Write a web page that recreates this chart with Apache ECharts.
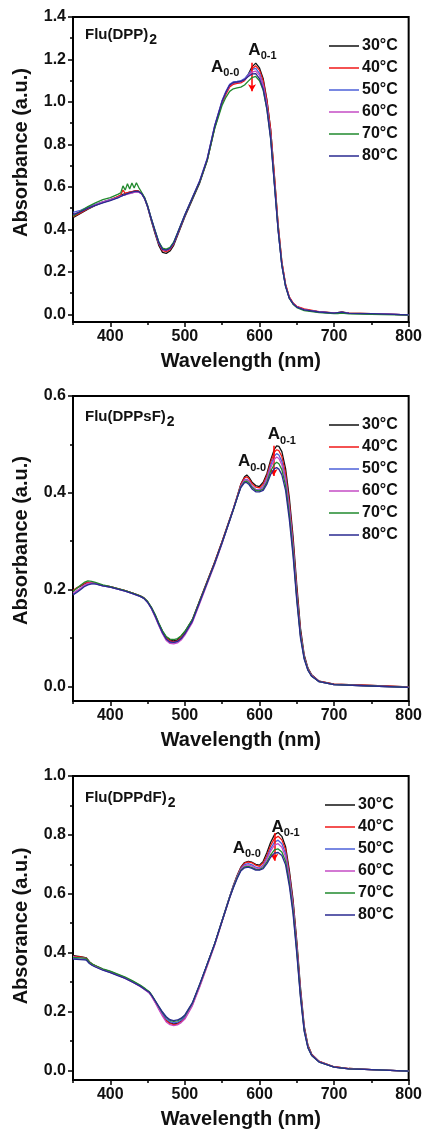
<!DOCTYPE html>
<html><head><meta charset="utf-8">
<script src="https://cdn.jsdelivr.net/npm/echarts@6/dist/echarts.min.js"></script>
<style>html,body{margin:0;padding:0;background:#fff}#c{width:425px;height:1130px}</style>
</head><body><div id="c"></div>
<script>
const temps = ['30°C','40°C','50°C','60°C','70°C','80°C'];

// Panel 1: Flu(DPP)2
const wl1 = [350,360,370,380,390,400,410,414,417,420,423,426,429,432,435,438,442,446,450,455,460,465,470,475,480,485,490,500,510,520,530,540,550,555,560,565,570,575,580,585,590,595,600,605,610,615,620,625,630,635,640,645,650,660,680,700,705,710,720,750,800];
const p1_30 = [0.455,0.475,0.495,0.513,0.527,0.538,0.553,0.56,0.565,0.568,0.572,0.575,0.577,0.58,0.582,0.58,0.57,0.545,0.505,0.44,0.38,0.325,0.292,0.287,0.298,0.325,0.37,0.46,0.54,0.62,0.725,0.88,1.0,1.04,1.075,1.088,1.093,1.095,1.105,1.13,1.165,1.183,1.16,1.11,1.01,0.87,0.65,0.42,0.245,0.14,0.08,0.052,0.036,0.022,0.012,0.007,0.008,0.011,0.006,0.003,-0.002];
const p1_40 = [0.46,0.478,0.498,0.515,0.53,0.54,0.555,0.562,0.585,0.57,0.573,0.576,0.578,0.58,0.582,0.58,0.57,0.548,0.51,0.447,0.388,0.333,0.3,0.295,0.305,0.332,0.376,0.465,0.545,0.625,0.728,0.88,0.997,1.036,1.07,1.083,1.088,1.09,1.1,1.125,1.155,1.17,1.15,1.1,1.005,0.87,0.655,0.425,0.25,0.142,0.082,0.054,0.038,0.026,0.013,0.007,0.008,0.01,0.006,0.003,-0.002];
const p1_50 = [0.48,0.49,0.505,0.518,0.53,0.54,0.55,0.556,0.56,0.564,0.567,0.57,0.572,0.575,0.577,0.576,0.568,0.548,0.512,0.452,0.395,0.34,0.308,0.303,0.312,0.338,0.382,0.47,0.55,0.63,0.735,0.89,1.008,1.05,1.083,1.095,1.097,1.1,1.11,1.13,1.152,1.158,1.135,1.08,0.985,0.84,0.62,0.4,0.232,0.133,0.077,0.05,0.035,0.021,0.011,0.006,0.007,0.009,0.005,0.003,-0.002];
const p1_60 = [0.47,0.485,0.5,0.515,0.528,0.538,0.55,0.556,0.56,0.563,0.566,0.569,0.571,0.574,0.576,0.575,0.567,0.545,0.508,0.448,0.39,0.335,0.304,0.3,0.309,0.335,0.378,0.467,0.548,0.628,0.732,0.886,1.004,1.045,1.078,1.09,1.092,1.095,1.105,1.122,1.14,1.145,1.125,1.075,0.98,0.84,0.625,0.405,0.236,0.135,0.078,0.051,0.035,0.021,0.011,0.006,0.007,0.009,0.005,0.003,-0.002];
const p1_70 = [0.462,0.485,0.507,0.525,0.54,0.55,0.565,0.572,0.605,0.585,0.615,0.59,0.618,0.595,0.62,0.598,0.575,0.55,0.512,0.45,0.395,0.342,0.312,0.307,0.315,0.34,0.382,0.468,0.546,0.624,0.725,0.875,0.985,1.022,1.05,1.062,1.066,1.07,1.08,1.098,1.115,1.12,1.1,1.055,0.965,0.83,0.615,0.4,0.232,0.132,0.075,0.048,0.032,0.018,0.008,0.003,0.004,0.006,0.002,0.0,-0.004];
const p1_80 = [0.47,0.482,0.5,0.513,0.525,0.535,0.548,0.555,0.56,0.564,0.568,0.572,0.575,0.578,0.58,0.578,0.568,0.545,0.508,0.448,0.392,0.338,0.306,0.302,0.31,0.336,0.38,0.468,0.548,0.628,0.732,0.887,1.004,1.046,1.08,1.092,1.094,1.097,1.105,1.12,1.132,1.133,1.11,1.06,0.965,0.825,0.61,0.395,0.23,0.132,0.076,0.05,0.034,0.021,0.011,0.006,0.008,0.01,0.005,0.003,-0.002];

// Panel 2: Flu(DPPsF)2
const wl2 = [350,355,360,365,370,375,380,390,400,410,420,430,440,445,450,455,460,465,470,475,480,485,490,495,500,510,520,530,540,550,560,565,570,575,580,583,586,590,595,600,605,610,615,620,623,626,630,635,640,645,650,655,660,665,670,680,700,750,800];
const p2_30 = [0.197,0.203,0.207,0.212,0.215,0.214,0.213,0.209,0.206,0.202,0.198,0.193,0.187,0.183,0.175,0.163,0.148,0.13,0.114,0.102,0.096,0.094,0.096,0.104,0.113,0.138,0.178,0.218,0.257,0.3,0.345,0.367,0.392,0.418,0.433,0.437,0.432,0.422,0.415,0.413,0.422,0.44,0.468,0.49,0.497,0.496,0.485,0.45,0.39,0.31,0.21,0.12,0.065,0.038,0.024,0.011,0.005,0.002,-0.001];
const p2_40 = [0.198,0.204,0.208,0.213,0.215,0.214,0.213,0.209,0.206,0.202,0.198,0.193,0.187,0.183,0.175,0.163,0.147,0.129,0.112,0.1,0.094,0.092,0.094,0.101,0.111,0.137,0.177,0.217,0.257,0.3,0.345,0.367,0.392,0.417,0.431,0.433,0.429,0.419,0.412,0.41,0.418,0.436,0.463,0.484,0.489,0.487,0.475,0.44,0.38,0.3,0.2,0.113,0.062,0.036,0.023,0.011,0.005,0.002,-0.001];
const p2_50 = [0.19,0.196,0.202,0.208,0.212,0.213,0.212,0.208,0.205,0.201,0.197,0.192,0.186,0.182,0.174,0.161,0.145,0.127,0.11,0.097,0.091,0.09,0.092,0.098,0.108,0.134,0.174,0.214,0.254,0.297,0.343,0.366,0.39,0.414,0.427,0.428,0.424,0.414,0.407,0.406,0.413,0.43,0.457,0.476,0.481,0.478,0.465,0.43,0.37,0.29,0.19,0.108,0.06,0.035,0.022,0.01,0.004,0.001,-0.002];
const p2_60 = [0.193,0.198,0.203,0.209,0.213,0.214,0.213,0.208,0.205,0.201,0.197,0.192,0.186,0.182,0.174,0.161,0.144,0.126,0.109,0.095,0.089,0.088,0.09,0.096,0.106,0.132,0.172,0.212,0.252,0.296,0.342,0.365,0.389,0.413,0.426,0.427,0.423,0.413,0.406,0.405,0.411,0.427,0.452,0.469,0.474,0.471,0.458,0.425,0.365,0.285,0.187,0.106,0.059,0.035,0.022,0.01,0.004,0.001,-0.002];
const p2_70 = [0.196,0.203,0.209,0.215,0.218,0.217,0.215,0.21,0.206,0.202,0.198,0.193,0.187,0.183,0.176,0.164,0.149,0.131,0.115,0.103,0.098,0.097,0.099,0.105,0.114,0.138,0.177,0.216,0.255,0.298,0.343,0.365,0.389,0.412,0.423,0.424,0.42,0.411,0.405,0.404,0.408,0.422,0.445,0.459,0.463,0.46,0.448,0.415,0.355,0.278,0.182,0.104,0.058,0.034,0.021,0.01,0.004,0.001,-0.002];
const p2_80 = [0.189,0.194,0.2,0.206,0.21,0.212,0.212,0.208,0.205,0.201,0.197,0.192,0.186,0.182,0.174,0.162,0.146,0.128,0.111,0.098,0.092,0.091,0.093,0.099,0.109,0.135,0.175,0.215,0.255,0.298,0.343,0.366,0.389,0.411,0.421,0.421,0.417,0.408,0.402,0.402,0.405,0.418,0.438,0.45,0.452,0.449,0.437,0.405,0.345,0.27,0.177,0.1,0.056,0.033,0.021,0.01,0.004,0.001,-0.002];

// Panel 3: Flu(DPPdF)2
const wl3 = [350,355,360,365,368,372,376,380,390,400,410,420,430,440,445,448,450,452,455,460,465,470,475,480,485,490,495,500,510,520,530,540,550,560,565,570,575,580,585,590,595,600,605,610,615,620,625,630,635,640,645,650,655,660,665,670,680,700,720,750,800];
const p3_30 = [0.39,0.388,0.386,0.384,0.382,0.368,0.36,0.355,0.343,0.335,0.325,0.315,0.302,0.288,0.279,0.273,0.276,0.266,0.256,0.235,0.211,0.189,0.17,0.161,0.158,0.16,0.168,0.18,0.225,0.29,0.36,0.43,0.51,0.59,0.628,0.662,0.69,0.706,0.71,0.707,0.7,0.697,0.71,0.74,0.775,0.8,0.808,0.795,0.76,0.68,0.58,0.44,0.28,0.15,0.085,0.055,0.03,0.012,0.006,0.002,-0.003];
const p3_40 = [0.388,0.386,0.385,0.383,0.381,0.368,0.36,0.355,0.343,0.334,0.324,0.314,0.301,0.287,0.278,0.272,0.275,0.265,0.255,0.233,0.21,0.188,0.168,0.159,0.155,0.157,0.165,0.177,0.222,0.287,0.357,0.428,0.508,0.588,0.626,0.66,0.688,0.704,0.708,0.705,0.697,0.693,0.704,0.731,0.764,0.787,0.795,0.783,0.75,0.67,0.57,0.43,0.27,0.145,0.083,0.054,0.03,0.012,0.006,0.002,-0.003];
const p3_50 = [0.38,0.379,0.378,0.377,0.376,0.364,0.357,0.352,0.341,0.333,0.323,0.313,0.3,0.286,0.277,0.271,0.274,0.264,0.254,0.234,0.212,0.192,0.175,0.165,0.161,0.163,0.17,0.182,0.225,0.29,0.36,0.43,0.51,0.59,0.626,0.658,0.685,0.699,0.702,0.698,0.69,0.687,0.697,0.722,0.753,0.775,0.782,0.77,0.737,0.66,0.56,0.42,0.262,0.14,0.08,0.052,0.029,0.011,0.005,0.002,-0.003];
const p3_60 = [0.386,0.384,0.383,0.381,0.38,0.366,0.358,0.353,0.342,0.333,0.323,0.312,0.299,0.285,0.276,0.27,0.273,0.263,0.253,0.231,0.207,0.184,0.164,0.155,0.152,0.154,0.162,0.174,0.219,0.284,0.354,0.425,0.505,0.585,0.622,0.655,0.682,0.695,0.698,0.694,0.687,0.685,0.694,0.717,0.745,0.765,0.77,0.758,0.725,0.65,0.552,0.413,0.258,0.138,0.079,0.051,0.029,0.011,0.005,0.002,-0.003];
const p3_70 = [0.384,0.383,0.382,0.381,0.38,0.368,0.361,0.356,0.345,0.337,0.327,0.317,0.304,0.29,0.281,0.275,0.278,0.268,0.258,0.238,0.216,0.196,0.18,0.17,0.166,0.168,0.175,0.186,0.228,0.292,0.36,0.43,0.508,0.587,0.622,0.654,0.68,0.691,0.693,0.689,0.683,0.682,0.689,0.708,0.732,0.749,0.752,0.742,0.71,0.638,0.542,0.405,0.252,0.135,0.077,0.05,0.028,0.011,0.005,0.002,-0.003];
const p3_80 = [0.378,0.377,0.376,0.375,0.374,0.363,0.356,0.351,0.34,0.332,0.322,0.312,0.299,0.286,0.277,0.272,0.276,0.266,0.256,0.237,0.217,0.198,0.182,0.172,0.169,0.171,0.177,0.188,0.229,0.293,0.361,0.43,0.508,0.586,0.62,0.651,0.677,0.688,0.69,0.686,0.68,0.68,0.685,0.702,0.724,0.738,0.74,0.73,0.698,0.627,0.532,0.397,0.247,0.132,0.076,0.05,0.028,0.011,0.005,0.002,-0.003];

// Tick labels
const xMajor = [400,500,600,700,800];
const xMinor = [350,450,550,650,750];
const yMajor1 = [0,0.2,0.4,0.6,0.8,1.0,1.2,1.4];
const yMinor1 = [0.1,0.3,0.5,0.7,0.9,1.1,1.3];
const yMajor2 = [0,0.2,0.4,0.6];
const yMinor2 = [0.1,0.3,0.5];
const yMajor3 = [0,0.2,0.4,0.6,0.8,1.0];
const yMinor3 = [0.1,0.3,0.5,0.7,0.9];

const colors = ['#111111','#f01818','#4c60d8','#c44cc4','#218a2e','#2a2a90'];
const FONT = '"Liberation Sans", Arial, Helvetica, sans-serif';

const panels = [
  {wl: wl1, vals: [p1_30,p1_40,p1_50,p1_60,p1_70,p1_80], ymin:-0.036, ymax:1.4, yMaj:yMajor1, yMin:yMinor1,
   top:17, yName:'Absorbance (a.u.)', namePad:34, title:'Flu(DPP)', titleTop:27,
   a00:[554,1.158], a01:[604,1.237], arrow:[[590,1.185],[590,1.05]], legTop:30, legLeft:324},
  {wl: wl2, vals: [p2_30,p2_40,p2_50,p2_60,p2_70,p2_80], ymin:-0.03, ymax:0.6, yMaj:yMajor2, yMin:yMinor2,
   top:396, yName:'Absorbance (a.u.)', namePad:16, title:'Flu(DPPsF)', titleTop:409,
   a00:[590,0.461], a01:[630,0.517], arrow:[[619,0.497],[619,0.435]], legTop:409, legLeft:324},
  {wl: wl3, vals: [p3_30,p3_40,p3_50,p3_60,p3_70,p3_80], ymin:-0.033, ymax:1.0, yMaj:yMajor3, yMin:yMinor3,
   top:776, yName:'Absorance (a.u.)', namePad:4, title:'Flu(DPPdF)', titleTop:790,
   a00:[583,0.75], a01:[635,0.821], arrow:[[620,0.806],[620,0.712]], legTop:789, legLeft:320}
];

const grid=[], xAxis=[], yAxis=[], series=[], legend=[], title=[];
const lab = {color:'#111', fontFamily:FONT, fontWeight:'bold'};
panels.forEach((p,i)=>{
  grid.push({left:73, top:p.top, width:338, height:305, show:true, borderColor:'#000', borderWidth:2, backgroundColor:'transparent'});
  title.push({text:'{t|'+p.title+'}{s|2}', left:85, top:p.titleTop, padding:0,
    textStyle:{rich:{t:{fontFamily:FONT,fontWeight:'bold',fontSize:15,color:'#111',lineHeight:20,verticalAlign:'top'},
                     s:{fontFamily:FONT,fontWeight:'bold',fontSize:14,color:'#111',lineHeight:20,verticalAlign:'bottom',padding:[0,0,0,1]}}}});
  legend.push({data:temps, orient:'vertical', left:p.legLeft, top:p.legTop, icon:'rect', itemWidth:30, itemHeight:1.5, itemGap:0,
    textStyle:{...lab, fontSize:16, lineHeight:22, padding:[0,0,0,-2]}, selectedMode:false});
});
panels.forEach((p,i)=>{
  xAxis.push({gridIndex:i, type:'value', min:350, max:800, position:'bottom',
    axisLine:{onZero:false, lineStyle:{color:'#000', width:2}},
    axisTick:{inside:false, length:5, customValues:xMajor, lineStyle:{color:'#000', width:1.5}},
    axisLabel:{...lab, fontSize:16, margin:7, customValues:xMajor},
    splitLine:{show:false},
    name:'Wavelength (nm)', nameLocation:'middle', nameGap:29,
    nameTextStyle:{...lab, fontSize:20}});
});
panels.forEach((p,i)=>{
  xAxis.push({gridIndex:i, type:'value', min:350, max:800, position:'bottom',
    axisLine:{show:false, onZero:false},
    axisTick:{inside:false, length:3, customValues:xMinor, lineStyle:{color:'#000', width:1.5}},
    axisLabel:{show:false}, splitLine:{show:false}});
});
panels.forEach((p,i)=>{
  yAxis.push({gridIndex:i, type:'value', min:p.ymin, max:p.ymax, position:'left',
    axisLine:{show:true, onZero:false, lineStyle:{color:'#000', width:2}},
    axisTick:{show:true, inside:false, length:5, customValues:p.yMaj, lineStyle:{color:'#000', width:1.5}},
    axisLabel:{...lab, fontSize:16, margin:7, customValues:p.yMaj, formatter:v=>Number(v).toFixed(1)},
    splitLine:{show:false},
    name:p.yName, nameLocation:'middle', nameGap:42, nameRotate:90,
    nameTextStyle:{...lab, fontSize:20, padding:[0,0,0,p.namePad]}});
});
panels.forEach((p,i)=>{
  yAxis.push({gridIndex:i, type:'value', min:p.ymin, max:p.ymax, position:'left',
    axisLine:{show:false, onZero:false},
    axisTick:{show:true, inside:false, length:3, customValues:p.yMin, lineStyle:{color:'#000', width:1.5}},
    axisLabel:{show:false}, splitLine:{show:false}});
});

const annRich = {a:{fontFamily:FONT,fontWeight:'bold',fontSize:17,color:'#111',lineHeight:20,verticalAlign:'top'},
                 s:{fontFamily:FONT,fontWeight:'bold',fontSize:11,color:'#111',lineHeight:20,verticalAlign:'bottom'}};
panels.forEach((p,i)=>{
  p.vals.forEach((v,k)=>{
    const s = {name:temps[k], type:'line', xAxisIndex:i, yAxisIndex:i, symbol:'none', showSymbol:false,
      data:p.wl.map((w,j)=>[w,v[j]]), lineStyle:{color:colors[k], width:1.3}, itemStyle:{color:colors[k]},
      z:2+k, animation:false, silent:true};
    if (k===0) {
      s.markPoint = {symbol:'rect', symbolSize:1, itemStyle:{color:'rgba(0,0,0,0)'}, silent:true, animation:false,
        label:{show:true, position:'inside', rich:annRich},
        data:[{coord:p.a00, label:{formatter:'{a|A}{s|0-0}'}},{coord:p.a01, label:{formatter:'{a|A}{s|0-1}'}}]};
      s.markLine = {silent:true, animation:false, symbol:['none','arrow'], symbolSize:[6,7],
        lineStyle:{color:'#ff0000', width:1.5, type:'solid'}, label:{show:false},
        data:[[{coord:p.arrow[0]},{coord:p.arrow[1]}]]};
    }
    series.push(s);
  });
});

const chart = echarts.init(document.getElementById('c'));
chart.setOption({animation:false, backgroundColor:'#fff', title, grid, xAxis, yAxis, legend, series});
</script></body></html>
